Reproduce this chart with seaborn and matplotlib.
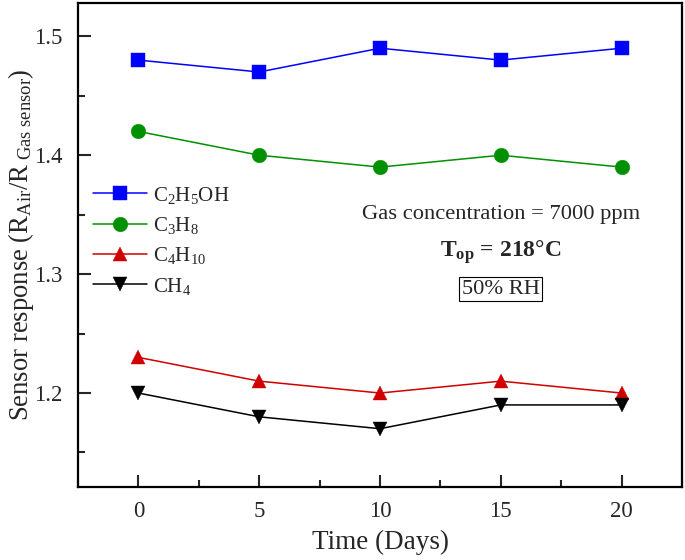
import matplotlib
matplotlib.use("Agg")
import matplotlib.pyplot as plt
import seaborn as sns
import pandas as pd
from matplotlib.ticker import MultipleLocator

days = [0, 5, 10, 15, 20]
c2h5oh = [1.48, 1.47, 1.49, 1.48, 1.49]
c3h8 = [1.42, 1.40, 1.39, 1.40, 1.39]
c4h10 = [1.23, 1.21, 1.20, 1.21, 1.20]
ch4 = [1.20, 1.18, 1.17, 1.19, 1.19]
labels = [r"C$_2$H$_5$OH", r"C$_3$H$_8$", r"C$_4$H$_{10}$", r"CH$_4$"]
colors = ["#0000FF", "#009000", "#D00000", "#000000"]
markers = ["s", "o", "^", "v"]

sns.set_theme(style="ticks")
plt.rcParams["font.family"] = ["Liberation Serif", "DejaVu Serif"]
plt.rcParams["mathtext.fontset"] = "custom"
plt.rcParams["mathtext.rm"] = "Liberation Serif"
plt.rcParams["mathtext.it"] = "Liberation Serif:italic"
plt.rcParams["mathtext.bf"] = "Liberation Serif:bold"

rows = []
for lab, vals in zip(labels, [c2h5oh, c3h8, c4h10, ch4]):
    for d, v in zip(days, vals):
        rows.append({"Day": d, "Resp": v, "Gas": lab})
df = pd.DataFrame(rows)

fig = plt.figure(figsize=(6.85, 5.6), dpi=100)
ax = fig.add_axes([0.1139, 0.1304, 0.8817, 0.8642])

sns.lineplot(data=df, x="Day", y="Resp", hue="Gas", style="Gas",
             hue_order=labels, style_order=labels,
             palette=dict(zip(labels, colors)),
             markers=dict(zip(labels, markers)), dashes=False,
             markersize=10.5, linewidth=1.1, markeredgewidth=0.3,
             ax=ax)
for line, c in zip(ax.get_lines(), colors):
    line.set_markeredgecolor(c)

ax.set_xlim(-2.5, 22.5)
ax.set_ylim(1.121, 1.528)
ax.set_xticks(days)
ax.xaxis.set_minor_locator(MultipleLocator(2.5))
ax.set_yticks([1.2, 1.3, 1.4, 1.5])
ax.yaxis.set_minor_locator(MultipleLocator(0.05))
ax.tick_params(which="both", direction="in", width=1.5, labelsize=16.5)
ax.tick_params(which="major", length=9)
ax.tick_params(which="minor", length=5)
ax.tick_params(axis="x", which="major", pad=10)
ax.tick_params(axis="y", which="major", pad=11)
for s in ax.spines.values():
    s.set_linewidth(1.6)
    s.set_color("black")

ax.set_xlabel("Time (Days)", fontsize=19.5, labelpad=6)
ax.set_ylabel(r"Sensor response (R$_{\mathrm{Air}}$/R$_{\mathrm{\ Gas\ sensor}}$)", fontsize=19.2)
ax.yaxis.set_label_coords(-0.070, 0.50)

leg = ax.legend(loc="upper left", bbox_to_anchor=(0.0, 0.655), frameon=False,
                fontsize=15, handlelength=2.6, handletextpad=0.3, labelspacing=0.45,
                borderaxespad=0.3)
for h, c in zip(leg.legend_handles, colors):
    h.set_markeredgecolor(c)

ax.text(0.70, 0.562, "Gas concentration = 7000 ppm", transform=ax.transAxes,
        ha="center", va="center", fontsize=16.2)
ax.text(0.70, 0.486, r"$\mathbf{T_{op}}$ = 218°C", transform=ax.transAxes,
        ha="center", va="center", fontsize=17, fontweight="bold")
ax.text(0.70, 0.409, "50% RH", transform=ax.transAxes, ha="center", va="center",
        fontsize=16.2, bbox=dict(boxstyle="square,pad=0.12", fc="white", ec="black", lw=0.8))

fig.savefig("out.png", dpi=100)
